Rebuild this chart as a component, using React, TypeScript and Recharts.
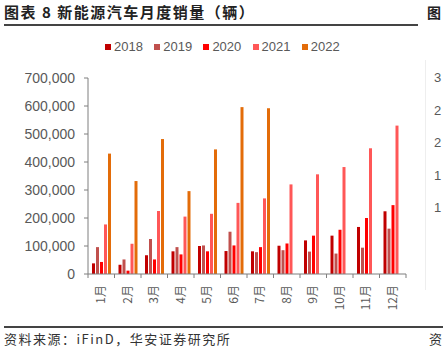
import { Bar, BarChart, XAxis, YAxis } from "recharts";

const months = ["1月", "2月", "3月", "4月", "5月", "6月", "7月", "8月", "9月", "10月", "11月", "12月"];
const sales2018 = [38000, 33000, 67000, 81000, 100000, 82000, 81000, 101000, 120000, 137000, 168000, 224000];
const sales2019 = [96000, 52000, 125000, 96000, 102000, 151000, 78000, 85000, 80000, 73000, 94000, 162000];
const sales2020 = [43000, 12000, 52000, 70000, 81000, 102000, 96000, 109000, 137000, 158000, 200000, 246000];
const sales2021 = [177000, 108000, 225000, 205000, 215000, 254000, 270000, 320000, 356000, 382000, 449000, 530000];
const sales2022 = [430000, 332000, 482000, 296000, 445000, 596000, 592000, null, null, null, null, null];
const yTicks = [0, 100000, 200000, 300000, 400000, 500000, 600000, 700000];
const rightTicks = ["3", "2", "2", "1", "1"];

const series = [
  { key: "2018", values: sales2018, color: "#C00000" },
  { key: "2019", values: sales2019, color: "#C0504D" },
  { key: "2020", values: sales2020, color: "#FF0000" },
  { key: "2021", values: sales2021, color: "#FF5757" },
  { key: "2022", values: sales2022, color: "#E36C09" },
];

const data = months.map((m, i) => {
  const row: any = { month: m };
  series.forEach((s) => (row[s.key] = s.values[i]));
  return row;
});

const W = 443;
const H = 354;
const plotLeft = 88;
const plotRight = 406;
const step = (plotRight - plotLeft) / months.length;

const MonthTick = (props: any) => {
  const { x, y, payload, index } = props;
  return (
    <g>
      <line x1={x - step / 2} y1={y - 8} x2={x - step / 2} y2={y - 4} stroke="#7f7f7f" />
      {index === months.length - 1 && (
        <line x1={x + step / 2} y1={y - 8} x2={x + step / 2} y2={y - 4} stroke="#7f7f7f" />
      )}
      <text
        transform={`translate(${x},${y + 3}) rotate(-90)`}
        textAnchor="end"
        dy="0.35em"
        fontSize={12}
        fill="#595959"
        fontFamily="'Noto Sans CJK SC', sans-serif"
      >
        {payload.value}
      </text>
    </g>
  );
};

export default function App() {
  return (
    <div
      style={{
        position: "absolute",
        left: 0,
        top: 0,
        width: W,
        height: H,
        background: "#fff",
        fontFamily: "'Liberation Sans', Arial, sans-serif",
        overflow: "hidden",
      }}
    >
      <div
        style={{
          position: "absolute",
          left: 4,
          top: 2,
          fontSize: 15,
          fontWeight: "bold",
          letterSpacing: 1.5,
          color: "#222",
          fontFamily: "'Noto Sans CJK SC', sans-serif",
          lineHeight: "20px",
        }}
      >
        图表 8 新能源汽车月度销量（辆）
      </div>
      <div
        style={{
          position: "absolute",
          left: 427,
          top: 2,
          fontSize: 14,
          fontWeight: "bold",
          color: "#222",
          fontFamily: "'Noto Sans CJK SC', sans-serif",
          lineHeight: "20px",
        }}
      >
        图
      </div>
      <div style={{ position: "absolute", left: 4, top: 24, width: 414, height: 1.5, background: "#444" }} />
      <div style={{ position: "absolute", left: 425, top: 60, width: 1, height: 230, background: "#eeeeee" }} />

      <div style={{ position: "absolute", left: 0, top: 38, display: "flex" }}>
        {series.map((s, i) => (
          <div
            key={s.key}
            style={{
              position: "absolute",
              left: 105 + i * 49.2,
              top: 0,
              display: "flex",
              alignItems: "center",
              whiteSpace: "nowrap",
              fontSize: 13,
              color: "#595959",
              lineHeight: "18px",
            }}
          >
            <span style={{ width: 6, height: 6, background: s.color, marginRight: 3 }} />
            {s.key}
          </div>
        ))}
      </div>

      {rightTicks.map((t, i) => (
        <div
          key={i}
          style={{
            position: "absolute",
            left: 434,
            top: 70 + i * 32.5,
            fontSize: 13,
            color: "#595959",
            lineHeight: "16px",
          }}
        >
          {t}
        </div>
      ))}

      <div style={{ position: "absolute", left: 0, top: 0 }}>
        <BarChart
          width={W}
          height={H}
          data={data}
          margin={{ top: 78, right: W - plotRight, bottom: 40, left: 8 }}
          barSize={3}
          barGap={1}
        >
          <XAxis
            dataKey="month"
            height={40}
            axisLine={{ stroke: "#7f7f7f" }}
            tickLine={false}
            tick={<MonthTick />}
            interval={0}
          />
          <YAxis
            width={80}
            domain={[0, 700000]}
            ticks={yTicks}
            interval={0}
            tickFormatter={(v: number) => v.toLocaleString("en-US")}
            axisLine={{ stroke: "#7f7f7f" }}
            tickLine={{ stroke: "#7f7f7f" }}
            tickSize={4}
            tickMargin={9}
            tick={{ fontSize: 14, fill: "#595959" }}
          />
          {series.map((s) => (
            <Bar key={s.key} dataKey={s.key} fill={s.color} isAnimationActive={false} />
          ))}
        </BarChart>
      </div>

      <div style={{ position: "absolute", left: 4, top: 326, width: 439, height: 1.5, background: "#444" }} />
      <div
        style={{
          position: "absolute",
          left: 4,
          top: 330,
          fontSize: 13,
          letterSpacing: 1.5,
          color: "#333",
          fontFamily: "'Noto Sans CJK SC', sans-serif",
          lineHeight: "18px",
        }}
      >
        资料来源：iFinD，华安证券研究所
      </div>
      <div
        style={{
          position: "absolute",
          left: 429,
          top: 330,
          fontSize: 13,
          color: "#333",
          fontFamily: "'Noto Sans CJK SC', sans-serif",
          lineHeight: "18px",
        }}
      >
        资
      </div>
    </div>
  );
}
